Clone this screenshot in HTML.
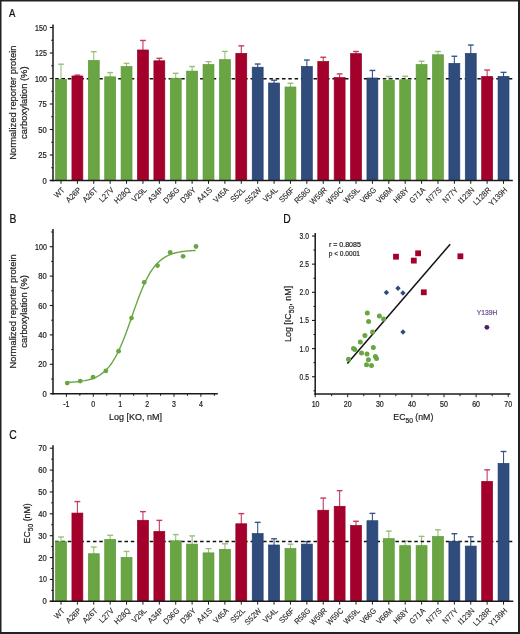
<!DOCTYPE html><html><head><meta charset="utf-8"><style>html,body{margin:0;padding:0;background:#fff;}svg{display:block;will-change:transform;}text{font-family:"Liberation Sans", sans-serif;}</style></head><body>
<svg width="520" height="634" viewBox="0 0 520 634">
<rect width="520" height="634" fill="#fff"/>
<text transform="translate(9.10,17.20) scale(0.900,1)" font-size="10.6" text-anchor="start" fill="#111" stroke="#111" stroke-width="0.22">A</text>
<line x1="61.00" y1="64.22" x2="61.00" y2="80.11" stroke="#94c278" stroke-width="1.1"/>
<line x1="58.10" y1="64.22" x2="63.90" y2="64.22" stroke="#94c278" stroke-width="1.4"/>
<line x1="77.39" y1="75.13" x2="77.39" y2="76.64" stroke="#c23c5c" stroke-width="1.1"/>
<line x1="74.49" y1="75.13" x2="80.29" y2="75.13" stroke="#c23c5c" stroke-width="1.4"/>
<line x1="93.78" y1="51.67" x2="93.78" y2="61.14" stroke="#94c278" stroke-width="1.1"/>
<line x1="90.88" y1="51.67" x2="96.68" y2="51.67" stroke="#94c278" stroke-width="1.4"/>
<line x1="110.17" y1="72.58" x2="110.17" y2="77.46" stroke="#94c278" stroke-width="1.1"/>
<line x1="107.27" y1="72.58" x2="113.07" y2="72.58" stroke="#94c278" stroke-width="1.4"/>
<line x1="126.56" y1="63.40" x2="126.56" y2="67.26" stroke="#94c278" stroke-width="1.1"/>
<line x1="123.66" y1="63.40" x2="129.46" y2="63.40" stroke="#94c278" stroke-width="1.4"/>
<line x1="142.95" y1="40.45" x2="142.95" y2="50.63" stroke="#c23c5c" stroke-width="1.1"/>
<line x1="140.05" y1="40.45" x2="145.85" y2="40.45" stroke="#c23c5c" stroke-width="1.4"/>
<line x1="159.34" y1="58.30" x2="159.34" y2="61.45" stroke="#c23c5c" stroke-width="1.1"/>
<line x1="156.44" y1="58.30" x2="162.24" y2="58.30" stroke="#c23c5c" stroke-width="1.4"/>
<line x1="175.73" y1="73.30" x2="175.73" y2="78.89" stroke="#94c278" stroke-width="1.1"/>
<line x1="172.83" y1="73.30" x2="178.63" y2="73.30" stroke="#94c278" stroke-width="1.4"/>
<line x1="192.12" y1="66.46" x2="192.12" y2="71.75" stroke="#94c278" stroke-width="1.1"/>
<line x1="189.22" y1="66.46" x2="195.02" y2="66.46" stroke="#94c278" stroke-width="1.4"/>
<line x1="208.51" y1="61.67" x2="208.51" y2="65.22" stroke="#94c278" stroke-width="1.1"/>
<line x1="205.61" y1="61.67" x2="211.41" y2="61.67" stroke="#94c278" stroke-width="1.4"/>
<line x1="224.90" y1="51.47" x2="224.90" y2="60.32" stroke="#94c278" stroke-width="1.1"/>
<line x1="222.00" y1="51.47" x2="227.80" y2="51.47" stroke="#94c278" stroke-width="1.4"/>
<line x1="241.29" y1="45.86" x2="241.29" y2="54.00" stroke="#c23c5c" stroke-width="1.1"/>
<line x1="238.39" y1="45.86" x2="244.19" y2="45.86" stroke="#c23c5c" stroke-width="1.4"/>
<line x1="257.68" y1="64.02" x2="257.68" y2="67.87" stroke="#38558a" stroke-width="1.1"/>
<line x1="254.78" y1="64.02" x2="260.58" y2="64.02" stroke="#38558a" stroke-width="1.4"/>
<line x1="274.07" y1="80.23" x2="274.07" y2="83.68" stroke="#38558a" stroke-width="1.1"/>
<line x1="271.17" y1="80.23" x2="276.97" y2="80.23" stroke="#38558a" stroke-width="1.4"/>
<line x1="290.46" y1="83.29" x2="290.46" y2="87.66" stroke="#94c278" stroke-width="1.1"/>
<line x1="287.56" y1="83.29" x2="293.36" y2="83.29" stroke="#94c278" stroke-width="1.4"/>
<line x1="306.85" y1="60.04" x2="306.85" y2="67.16" stroke="#38558a" stroke-width="1.1"/>
<line x1="303.95" y1="60.04" x2="309.75" y2="60.04" stroke="#38558a" stroke-width="1.4"/>
<line x1="323.24" y1="57.28" x2="323.24" y2="62.16" stroke="#c23c5c" stroke-width="1.1"/>
<line x1="320.34" y1="57.28" x2="326.14" y2="57.28" stroke="#c23c5c" stroke-width="1.4"/>
<line x1="339.63" y1="73.91" x2="339.63" y2="78.28" stroke="#c23c5c" stroke-width="1.1"/>
<line x1="336.73" y1="73.91" x2="342.53" y2="73.91" stroke="#c23c5c" stroke-width="1.4"/>
<line x1="356.02" y1="51.47" x2="356.02" y2="54.31" stroke="#c23c5c" stroke-width="1.1"/>
<line x1="353.12" y1="51.47" x2="358.92" y2="51.47" stroke="#c23c5c" stroke-width="1.4"/>
<line x1="372.41" y1="70.44" x2="372.41" y2="78.68" stroke="#38558a" stroke-width="1.1"/>
<line x1="369.51" y1="70.44" x2="375.31" y2="70.44" stroke="#38558a" stroke-width="1.4"/>
<line x1="388.80" y1="76.46" x2="388.80" y2="80.93" stroke="#94c278" stroke-width="1.1"/>
<line x1="385.90" y1="76.46" x2="391.70" y2="76.46" stroke="#94c278" stroke-width="1.4"/>
<line x1="405.19" y1="76.26" x2="405.19" y2="80.42" stroke="#94c278" stroke-width="1.1"/>
<line x1="402.29" y1="76.26" x2="408.09" y2="76.26" stroke="#94c278" stroke-width="1.4"/>
<line x1="421.58" y1="61.26" x2="421.58" y2="65.22" stroke="#94c278" stroke-width="1.1"/>
<line x1="418.68" y1="61.26" x2="424.48" y2="61.26" stroke="#94c278" stroke-width="1.4"/>
<line x1="437.97" y1="51.47" x2="437.97" y2="55.43" stroke="#94c278" stroke-width="1.1"/>
<line x1="435.07" y1="51.47" x2="440.87" y2="51.47" stroke="#94c278" stroke-width="1.4"/>
<line x1="454.36" y1="56.26" x2="454.36" y2="64.10" stroke="#38558a" stroke-width="1.1"/>
<line x1="451.46" y1="56.26" x2="457.26" y2="56.26" stroke="#38558a" stroke-width="1.4"/>
<line x1="470.75" y1="45.04" x2="470.75" y2="54.10" stroke="#38558a" stroke-width="1.1"/>
<line x1="467.85" y1="45.04" x2="473.65" y2="45.04" stroke="#38558a" stroke-width="1.4"/>
<line x1="487.14" y1="70.03" x2="487.14" y2="77.15" stroke="#c23c5c" stroke-width="1.1"/>
<line x1="484.24" y1="70.03" x2="490.04" y2="70.03" stroke="#c23c5c" stroke-width="1.4"/>
<line x1="503.53" y1="72.38" x2="503.53" y2="77.15" stroke="#38558a" stroke-width="1.1"/>
<line x1="500.63" y1="72.38" x2="506.43" y2="72.38" stroke="#38558a" stroke-width="1.4"/>
<line x1="53.5" y1="78.80" x2="512.8" y2="78.80" stroke="#111" stroke-width="1.5" stroke-dasharray="3.5 2.8" stroke-dashoffset="-1.7"/>
<rect x="55.55" y="79.46" width="10.90" height="101.04" fill="#69a643" stroke="#5e9a3a" stroke-width="0.7"/>
<line x1="61.00" y1="180.5" x2="61.00" y2="183.8" stroke="#1a1a1a" stroke-width="1.0"/>
<text transform="translate(65.30,190.50) rotate(-45) scale(0.920,1)" font-size="8.0" text-anchor="end" fill="#1e1e1e" stroke="#1e1e1e" stroke-width="0.1">WT</text>
<rect x="71.94" y="75.99" width="10.90" height="104.51" fill="#a3002b" stroke="#960027" stroke-width="0.7"/>
<line x1="77.39" y1="180.5" x2="77.39" y2="183.8" stroke="#1a1a1a" stroke-width="1.0"/>
<text transform="translate(81.69,190.50) rotate(-45) scale(0.920,1)" font-size="8.0" text-anchor="end" fill="#1e1e1e" stroke="#1e1e1e" stroke-width="0.1">A26P</text>
<rect x="88.33" y="60.49" width="10.90" height="120.01" fill="#69a643" stroke="#5e9a3a" stroke-width="0.7"/>
<line x1="93.78" y1="180.5" x2="93.78" y2="183.8" stroke="#1a1a1a" stroke-width="1.0"/>
<text transform="translate(98.08,190.50) rotate(-45) scale(0.920,1)" font-size="8.0" text-anchor="end" fill="#1e1e1e" stroke="#1e1e1e" stroke-width="0.1">A26T</text>
<rect x="104.72" y="76.81" width="10.90" height="103.69" fill="#69a643" stroke="#5e9a3a" stroke-width="0.7"/>
<line x1="110.17" y1="180.5" x2="110.17" y2="183.8" stroke="#1a1a1a" stroke-width="1.0"/>
<text transform="translate(114.47,190.50) rotate(-45) scale(0.920,1)" font-size="8.0" text-anchor="end" fill="#1e1e1e" stroke="#1e1e1e" stroke-width="0.1">L27V</text>
<rect x="121.11" y="66.61" width="10.90" height="113.89" fill="#69a643" stroke="#5e9a3a" stroke-width="0.7"/>
<line x1="126.56" y1="180.5" x2="126.56" y2="183.8" stroke="#1a1a1a" stroke-width="1.0"/>
<text transform="translate(130.86,190.50) rotate(-45) scale(0.920,1)" font-size="8.0" text-anchor="end" fill="#1e1e1e" stroke="#1e1e1e" stroke-width="0.1">H28Q</text>
<rect x="137.50" y="49.98" width="10.90" height="130.52" fill="#a3002b" stroke="#960027" stroke-width="0.7"/>
<line x1="142.95" y1="180.5" x2="142.95" y2="183.8" stroke="#1a1a1a" stroke-width="1.0"/>
<text transform="translate(147.25,190.50) rotate(-45) scale(0.920,1)" font-size="8.0" text-anchor="end" fill="#1e1e1e" stroke="#1e1e1e" stroke-width="0.1">V29L</text>
<rect x="153.89" y="60.80" width="10.90" height="119.70" fill="#a3002b" stroke="#960027" stroke-width="0.7"/>
<line x1="159.34" y1="180.5" x2="159.34" y2="183.8" stroke="#1a1a1a" stroke-width="1.0"/>
<text transform="translate(163.64,190.50) rotate(-45) scale(0.920,1)" font-size="8.0" text-anchor="end" fill="#1e1e1e" stroke="#1e1e1e" stroke-width="0.1">A34P</text>
<rect x="170.28" y="78.24" width="10.90" height="102.26" fill="#69a643" stroke="#5e9a3a" stroke-width="0.7"/>
<line x1="175.73" y1="180.5" x2="175.73" y2="183.8" stroke="#1a1a1a" stroke-width="1.0"/>
<text transform="translate(180.03,190.50) rotate(-45) scale(0.920,1)" font-size="8.0" text-anchor="end" fill="#1e1e1e" stroke="#1e1e1e" stroke-width="0.1">D36G</text>
<rect x="186.67" y="71.10" width="10.90" height="109.40" fill="#69a643" stroke="#5e9a3a" stroke-width="0.7"/>
<line x1="192.12" y1="180.5" x2="192.12" y2="183.8" stroke="#1a1a1a" stroke-width="1.0"/>
<text transform="translate(196.42,190.50) rotate(-45) scale(0.920,1)" font-size="8.0" text-anchor="end" fill="#1e1e1e" stroke="#1e1e1e" stroke-width="0.1">D36Y</text>
<rect x="203.06" y="64.57" width="10.90" height="115.93" fill="#69a643" stroke="#5e9a3a" stroke-width="0.7"/>
<line x1="208.51" y1="180.5" x2="208.51" y2="183.8" stroke="#1a1a1a" stroke-width="1.0"/>
<text transform="translate(212.81,190.50) rotate(-45) scale(0.920,1)" font-size="8.0" text-anchor="end" fill="#1e1e1e" stroke="#1e1e1e" stroke-width="0.1">A41S</text>
<rect x="219.45" y="59.67" width="10.90" height="120.83" fill="#69a643" stroke="#5e9a3a" stroke-width="0.7"/>
<line x1="224.90" y1="180.5" x2="224.90" y2="183.8" stroke="#1a1a1a" stroke-width="1.0"/>
<text transform="translate(229.20,190.50) rotate(-45) scale(0.920,1)" font-size="8.0" text-anchor="end" fill="#1e1e1e" stroke="#1e1e1e" stroke-width="0.1">V45A</text>
<rect x="235.84" y="53.35" width="10.90" height="127.15" fill="#a3002b" stroke="#960027" stroke-width="0.7"/>
<line x1="241.29" y1="180.5" x2="241.29" y2="183.8" stroke="#1a1a1a" stroke-width="1.0"/>
<text transform="translate(245.59,190.50) rotate(-45) scale(0.920,1)" font-size="8.0" text-anchor="end" fill="#1e1e1e" stroke="#1e1e1e" stroke-width="0.1">S52L</text>
<rect x="252.23" y="67.22" width="10.90" height="113.28" fill="#2f4c7c" stroke="#223f70" stroke-width="0.7"/>
<line x1="257.68" y1="180.5" x2="257.68" y2="183.8" stroke="#1a1a1a" stroke-width="1.0"/>
<text transform="translate(261.98,190.50) rotate(-45) scale(0.920,1)" font-size="8.0" text-anchor="end" fill="#1e1e1e" stroke="#1e1e1e" stroke-width="0.1">S52W</text>
<rect x="268.62" y="83.03" width="10.90" height="97.47" fill="#2f4c7c" stroke="#223f70" stroke-width="0.7"/>
<line x1="274.07" y1="180.5" x2="274.07" y2="183.8" stroke="#1a1a1a" stroke-width="1.0"/>
<text transform="translate(278.37,190.50) rotate(-45) scale(0.920,1)" font-size="8.0" text-anchor="end" fill="#1e1e1e" stroke="#1e1e1e" stroke-width="0.1">V54L</text>
<rect x="285.01" y="87.01" width="10.90" height="93.49" fill="#69a643" stroke="#5e9a3a" stroke-width="0.7"/>
<line x1="290.46" y1="180.5" x2="290.46" y2="183.8" stroke="#1a1a1a" stroke-width="1.0"/>
<text transform="translate(294.76,190.50) rotate(-45) scale(0.920,1)" font-size="8.0" text-anchor="end" fill="#1e1e1e" stroke="#1e1e1e" stroke-width="0.1">S56F</text>
<rect x="301.40" y="66.51" width="10.90" height="113.99" fill="#2f4c7c" stroke="#223f70" stroke-width="0.7"/>
<line x1="306.85" y1="180.5" x2="306.85" y2="183.8" stroke="#1a1a1a" stroke-width="1.0"/>
<text transform="translate(311.15,190.50) rotate(-45) scale(0.920,1)" font-size="8.0" text-anchor="end" fill="#1e1e1e" stroke="#1e1e1e" stroke-width="0.1">R58G</text>
<rect x="317.79" y="61.51" width="10.90" height="118.99" fill="#a3002b" stroke="#960027" stroke-width="0.7"/>
<line x1="323.24" y1="180.5" x2="323.24" y2="183.8" stroke="#1a1a1a" stroke-width="1.0"/>
<text transform="translate(327.54,190.50) rotate(-45) scale(0.920,1)" font-size="8.0" text-anchor="end" fill="#1e1e1e" stroke="#1e1e1e" stroke-width="0.1">W59R</text>
<rect x="334.18" y="77.63" width="10.90" height="102.87" fill="#a3002b" stroke="#960027" stroke-width="0.7"/>
<line x1="339.63" y1="180.5" x2="339.63" y2="183.8" stroke="#1a1a1a" stroke-width="1.0"/>
<text transform="translate(343.93,190.50) rotate(-45) scale(0.920,1)" font-size="8.0" text-anchor="end" fill="#1e1e1e" stroke="#1e1e1e" stroke-width="0.1">W59C</text>
<rect x="350.57" y="53.66" width="10.90" height="126.84" fill="#a3002b" stroke="#960027" stroke-width="0.7"/>
<line x1="356.02" y1="180.5" x2="356.02" y2="183.8" stroke="#1a1a1a" stroke-width="1.0"/>
<text transform="translate(360.32,190.50) rotate(-45) scale(0.920,1)" font-size="8.0" text-anchor="end" fill="#1e1e1e" stroke="#1e1e1e" stroke-width="0.1">W59L</text>
<rect x="366.96" y="78.03" width="10.90" height="102.47" fill="#2f4c7c" stroke="#223f70" stroke-width="0.7"/>
<line x1="372.41" y1="180.5" x2="372.41" y2="183.8" stroke="#1a1a1a" stroke-width="1.0"/>
<text transform="translate(376.71,190.50) rotate(-45) scale(0.920,1)" font-size="8.0" text-anchor="end" fill="#1e1e1e" stroke="#1e1e1e" stroke-width="0.1">V66G</text>
<rect x="383.35" y="80.28" width="10.90" height="100.22" fill="#69a643" stroke="#5e9a3a" stroke-width="0.7"/>
<line x1="388.80" y1="180.5" x2="388.80" y2="183.8" stroke="#1a1a1a" stroke-width="1.0"/>
<text transform="translate(393.10,190.50) rotate(-45) scale(0.920,1)" font-size="8.0" text-anchor="end" fill="#1e1e1e" stroke="#1e1e1e" stroke-width="0.1">V66M</text>
<rect x="399.74" y="79.77" width="10.90" height="100.73" fill="#69a643" stroke="#5e9a3a" stroke-width="0.7"/>
<line x1="405.19" y1="180.5" x2="405.19" y2="183.8" stroke="#1a1a1a" stroke-width="1.0"/>
<text transform="translate(409.49,190.50) rotate(-45) scale(0.920,1)" font-size="8.0" text-anchor="end" fill="#1e1e1e" stroke="#1e1e1e" stroke-width="0.1">H68Y</text>
<rect x="416.13" y="64.57" width="10.90" height="115.93" fill="#69a643" stroke="#5e9a3a" stroke-width="0.7"/>
<line x1="421.58" y1="180.5" x2="421.58" y2="183.8" stroke="#1a1a1a" stroke-width="1.0"/>
<text transform="translate(425.88,190.50) rotate(-45) scale(0.920,1)" font-size="8.0" text-anchor="end" fill="#1e1e1e" stroke="#1e1e1e" stroke-width="0.1">G71A</text>
<rect x="432.52" y="54.78" width="10.90" height="125.72" fill="#69a643" stroke="#5e9a3a" stroke-width="0.7"/>
<line x1="437.97" y1="180.5" x2="437.97" y2="183.8" stroke="#1a1a1a" stroke-width="1.0"/>
<text transform="translate(442.27,190.50) rotate(-45) scale(0.920,1)" font-size="8.0" text-anchor="end" fill="#1e1e1e" stroke="#1e1e1e" stroke-width="0.1">N77S</text>
<rect x="448.91" y="63.45" width="10.90" height="117.05" fill="#2f4c7c" stroke="#223f70" stroke-width="0.7"/>
<line x1="454.36" y1="180.5" x2="454.36" y2="183.8" stroke="#1a1a1a" stroke-width="1.0"/>
<text transform="translate(458.66,190.50) rotate(-45) scale(0.920,1)" font-size="8.0" text-anchor="end" fill="#1e1e1e" stroke="#1e1e1e" stroke-width="0.1">N77Y</text>
<rect x="465.30" y="53.45" width="10.90" height="127.05" fill="#2f4c7c" stroke="#223f70" stroke-width="0.7"/>
<line x1="470.75" y1="180.5" x2="470.75" y2="183.8" stroke="#1a1a1a" stroke-width="1.0"/>
<text transform="translate(475.05,190.50) rotate(-45) scale(0.920,1)" font-size="8.0" text-anchor="end" fill="#1e1e1e" stroke="#1e1e1e" stroke-width="0.1">I123N</text>
<rect x="481.69" y="76.50" width="10.90" height="104.00" fill="#a3002b" stroke="#960027" stroke-width="0.7"/>
<line x1="487.14" y1="180.5" x2="487.14" y2="183.8" stroke="#1a1a1a" stroke-width="1.0"/>
<text transform="translate(491.44,190.50) rotate(-45) scale(0.920,1)" font-size="8.0" text-anchor="end" fill="#1e1e1e" stroke="#1e1e1e" stroke-width="0.1">L128R</text>
<rect x="498.08" y="76.50" width="10.90" height="104.00" fill="#2f4c7c" stroke="#223f70" stroke-width="0.7"/>
<line x1="503.53" y1="180.5" x2="503.53" y2="183.8" stroke="#1a1a1a" stroke-width="1.0"/>
<text transform="translate(507.83,190.50) rotate(-45) scale(0.920,1)" font-size="8.0" text-anchor="end" fill="#1e1e1e" stroke="#1e1e1e" stroke-width="0.1">Y139H</text>
<line x1="53" y1="24.4" x2="53" y2="181.25" stroke="#1a1a1a" stroke-width="1.5"/>
<line x1="49.8" y1="180.50" x2="53" y2="180.50" stroke="#1a1a1a" stroke-width="1.1"/>
<text transform="translate(46.80,183.50) scale(0.930,1)" font-size="8.2" text-anchor="end" fill="#1e1e1e" stroke="#1e1e1e" stroke-width="0.22">0</text>
<line x1="49.8" y1="155.00" x2="53" y2="155.00" stroke="#1a1a1a" stroke-width="1.1"/>
<text transform="translate(46.80,158.00) scale(0.930,1)" font-size="8.2" text-anchor="end" fill="#1e1e1e" stroke="#1e1e1e" stroke-width="0.22">25</text>
<line x1="49.8" y1="129.50" x2="53" y2="129.50" stroke="#1a1a1a" stroke-width="1.1"/>
<text transform="translate(46.80,132.50) scale(0.930,1)" font-size="8.2" text-anchor="end" fill="#1e1e1e" stroke="#1e1e1e" stroke-width="0.22">50</text>
<line x1="49.8" y1="104.00" x2="53" y2="104.00" stroke="#1a1a1a" stroke-width="1.1"/>
<text transform="translate(46.80,107.00) scale(0.930,1)" font-size="8.2" text-anchor="end" fill="#1e1e1e" stroke="#1e1e1e" stroke-width="0.22">75</text>
<line x1="49.8" y1="78.50" x2="53" y2="78.50" stroke="#1a1a1a" stroke-width="1.1"/>
<text transform="translate(46.80,81.50) scale(0.860,1)" font-size="8.2" text-anchor="end" fill="#1e1e1e" stroke="#1e1e1e" stroke-width="0.22">100</text>
<line x1="49.8" y1="53.00" x2="53" y2="53.00" stroke="#1a1a1a" stroke-width="1.1"/>
<text transform="translate(46.80,56.00) scale(0.860,1)" font-size="8.2" text-anchor="end" fill="#1e1e1e" stroke="#1e1e1e" stroke-width="0.22">125</text>
<line x1="49.8" y1="27.50" x2="53" y2="27.50" stroke="#1a1a1a" stroke-width="1.1"/>
<text transform="translate(46.80,30.50) scale(0.860,1)" font-size="8.2" text-anchor="end" fill="#1e1e1e" stroke="#1e1e1e" stroke-width="0.22">150</text>
<line x1="51.2" y1="167.75" x2="53" y2="167.75" stroke="#1a1a1a" stroke-width="1.0"/>
<line x1="51.2" y1="142.25" x2="53" y2="142.25" stroke="#1a1a1a" stroke-width="1.0"/>
<line x1="51.2" y1="116.75" x2="53" y2="116.75" stroke="#1a1a1a" stroke-width="1.0"/>
<line x1="51.2" y1="91.25" x2="53" y2="91.25" stroke="#1a1a1a" stroke-width="1.0"/>
<line x1="51.2" y1="65.75" x2="53" y2="65.75" stroke="#1a1a1a" stroke-width="1.0"/>
<line x1="51.2" y1="40.25" x2="53" y2="40.25" stroke="#1a1a1a" stroke-width="1.0"/>
<line x1="49.8" y1="180.5" x2="512.8" y2="180.5" stroke="#1a1a1a" stroke-width="1.5"/>
<text transform="translate(16.30,102.70) rotate(-90) scale(0.950,1)" font-size="9.9" text-anchor="middle" fill="#1e1e1e" stroke="#1e1e1e" stroke-width="0.22">Normalized reporter protein</text>
<text transform="translate(26.60,102.70) rotate(-90) scale(0.950,1)" font-size="9.9" text-anchor="middle" fill="#1e1e1e" stroke="#1e1e1e" stroke-width="0.22">carboxylation (%)</text>
<text transform="translate(9.20,439.00) scale(0.870,1)" font-size="11.9" text-anchor="start" fill="#111" stroke="#111" stroke-width="0.22">C</text>
<line x1="61.00" y1="537.00" x2="61.00" y2="542.38" stroke="#94c278" stroke-width="1.1"/>
<line x1="58.10" y1="537.00" x2="63.90" y2="537.00" stroke="#94c278" stroke-width="1.4"/>
<line x1="77.39" y1="501.57" x2="77.39" y2="513.73" stroke="#c23c5c" stroke-width="1.1"/>
<line x1="74.49" y1="501.57" x2="80.29" y2="501.57" stroke="#c23c5c" stroke-width="1.4"/>
<line x1="93.78" y1="547.06" x2="93.78" y2="554.40" stroke="#94c278" stroke-width="1.1"/>
<line x1="90.88" y1="547.06" x2="96.68" y2="547.06" stroke="#94c278" stroke-width="1.4"/>
<line x1="110.17" y1="535.25" x2="110.17" y2="540.19" stroke="#94c278" stroke-width="1.1"/>
<line x1="107.27" y1="535.25" x2="113.07" y2="535.25" stroke="#94c278" stroke-width="1.4"/>
<line x1="126.56" y1="551.44" x2="126.56" y2="558.12" stroke="#94c278" stroke-width="1.1"/>
<line x1="123.66" y1="551.44" x2="129.46" y2="551.44" stroke="#94c278" stroke-width="1.4"/>
<line x1="142.95" y1="511.63" x2="142.95" y2="520.94" stroke="#c23c5c" stroke-width="1.1"/>
<line x1="140.05" y1="511.63" x2="145.85" y2="511.63" stroke="#c23c5c" stroke-width="1.4"/>
<line x1="159.34" y1="520.38" x2="159.34" y2="532.10" stroke="#c23c5c" stroke-width="1.1"/>
<line x1="156.44" y1="520.38" x2="162.24" y2="520.38" stroke="#c23c5c" stroke-width="1.4"/>
<line x1="175.73" y1="534.60" x2="175.73" y2="541.50" stroke="#94c278" stroke-width="1.1"/>
<line x1="172.83" y1="534.60" x2="178.63" y2="534.60" stroke="#94c278" stroke-width="1.4"/>
<line x1="192.12" y1="535.91" x2="192.12" y2="544.78" stroke="#94c278" stroke-width="1.1"/>
<line x1="189.22" y1="535.91" x2="195.02" y2="535.91" stroke="#94c278" stroke-width="1.4"/>
<line x1="208.51" y1="548.59" x2="208.51" y2="553.53" stroke="#94c278" stroke-width="1.1"/>
<line x1="205.61" y1="548.59" x2="211.41" y2="548.59" stroke="#94c278" stroke-width="1.4"/>
<line x1="224.90" y1="543.78" x2="224.90" y2="550.03" stroke="#94c278" stroke-width="1.1"/>
<line x1="222.00" y1="543.78" x2="227.80" y2="543.78" stroke="#94c278" stroke-width="1.4"/>
<line x1="241.29" y1="513.60" x2="241.29" y2="524.44" stroke="#c23c5c" stroke-width="1.1"/>
<line x1="238.39" y1="513.60" x2="244.19" y2="513.60" stroke="#c23c5c" stroke-width="1.4"/>
<line x1="257.68" y1="522.35" x2="257.68" y2="534.28" stroke="#38558a" stroke-width="1.1"/>
<line x1="254.78" y1="522.35" x2="260.58" y2="522.35" stroke="#38558a" stroke-width="1.4"/>
<line x1="274.07" y1="538.75" x2="274.07" y2="545.66" stroke="#38558a" stroke-width="1.1"/>
<line x1="271.17" y1="538.75" x2="276.97" y2="538.75" stroke="#38558a" stroke-width="1.4"/>
<line x1="290.46" y1="544.22" x2="290.46" y2="549.16" stroke="#94c278" stroke-width="1.1"/>
<line x1="287.56" y1="544.22" x2="293.36" y2="544.22" stroke="#94c278" stroke-width="1.4"/>
<line x1="306.85" y1="541.59" x2="306.85" y2="544.78" stroke="#38558a" stroke-width="1.1"/>
<line x1="303.95" y1="541.59" x2="309.75" y2="541.59" stroke="#38558a" stroke-width="1.4"/>
<line x1="323.24" y1="498.07" x2="323.24" y2="510.88" stroke="#c23c5c" stroke-width="1.1"/>
<line x1="320.34" y1="498.07" x2="326.14" y2="498.07" stroke="#c23c5c" stroke-width="1.4"/>
<line x1="339.63" y1="490.64" x2="339.63" y2="506.95" stroke="#c23c5c" stroke-width="1.1"/>
<line x1="336.73" y1="490.64" x2="342.53" y2="490.64" stroke="#c23c5c" stroke-width="1.4"/>
<line x1="356.02" y1="521.26" x2="356.02" y2="526.19" stroke="#c23c5c" stroke-width="1.1"/>
<line x1="353.12" y1="521.26" x2="358.92" y2="521.26" stroke="#c23c5c" stroke-width="1.4"/>
<line x1="372.41" y1="513.38" x2="372.41" y2="521.38" stroke="#38558a" stroke-width="1.1"/>
<line x1="369.51" y1="513.38" x2="375.31" y2="513.38" stroke="#38558a" stroke-width="1.4"/>
<line x1="388.80" y1="531.10" x2="388.80" y2="539.31" stroke="#94c278" stroke-width="1.1"/>
<line x1="385.90" y1="531.10" x2="391.70" y2="531.10" stroke="#94c278" stroke-width="1.4"/>
<line x1="405.19" y1="541.16" x2="405.19" y2="546.31" stroke="#94c278" stroke-width="1.1"/>
<line x1="402.29" y1="541.16" x2="408.09" y2="541.16" stroke="#94c278" stroke-width="1.4"/>
<line x1="421.58" y1="536.35" x2="421.58" y2="546.31" stroke="#94c278" stroke-width="1.1"/>
<line x1="418.68" y1="536.35" x2="424.48" y2="536.35" stroke="#94c278" stroke-width="1.4"/>
<line x1="437.97" y1="529.79" x2="437.97" y2="537.13" stroke="#94c278" stroke-width="1.1"/>
<line x1="435.07" y1="529.79" x2="440.87" y2="529.79" stroke="#94c278" stroke-width="1.4"/>
<line x1="454.36" y1="533.72" x2="454.36" y2="541.94" stroke="#38558a" stroke-width="1.1"/>
<line x1="451.46" y1="533.72" x2="457.26" y2="533.72" stroke="#38558a" stroke-width="1.4"/>
<line x1="470.75" y1="536.78" x2="470.75" y2="546.75" stroke="#38558a" stroke-width="1.1"/>
<line x1="467.85" y1="536.78" x2="473.65" y2="536.78" stroke="#38558a" stroke-width="1.4"/>
<line x1="487.14" y1="469.86" x2="487.14" y2="482.01" stroke="#c23c5c" stroke-width="1.1"/>
<line x1="484.24" y1="469.86" x2="490.04" y2="469.86" stroke="#c23c5c" stroke-width="1.4"/>
<line x1="503.53" y1="451.49" x2="503.53" y2="464.08" stroke="#38558a" stroke-width="1.1"/>
<line x1="500.63" y1="451.49" x2="506.43" y2="451.49" stroke="#38558a" stroke-width="1.4"/>
<line x1="53.5" y1="541.40" x2="513.3" y2="541.40" stroke="#111" stroke-width="1.5" stroke-dasharray="3.5 2.8" stroke-dashoffset="-1.7"/>
<rect x="55.55" y="541.73" width="10.90" height="59.57" fill="#69a643" stroke="#5e9a3a" stroke-width="0.7"/>
<line x1="61.00" y1="601.3" x2="61.00" y2="604.5999999999999" stroke="#1a1a1a" stroke-width="1.0"/>
<text transform="translate(65.30,611.30) rotate(-45) scale(0.920,1)" font-size="8.0" text-anchor="end" fill="#1e1e1e" stroke="#1e1e1e" stroke-width="0.1">WT</text>
<rect x="71.94" y="513.08" width="10.90" height="88.22" fill="#a3002b" stroke="#960027" stroke-width="0.7"/>
<line x1="77.39" y1="601.3" x2="77.39" y2="604.5999999999999" stroke="#1a1a1a" stroke-width="1.0"/>
<text transform="translate(81.69,611.30) rotate(-45) scale(0.920,1)" font-size="8.0" text-anchor="end" fill="#1e1e1e" stroke="#1e1e1e" stroke-width="0.1">A26P</text>
<rect x="88.33" y="553.75" width="10.90" height="47.55" fill="#69a643" stroke="#5e9a3a" stroke-width="0.7"/>
<line x1="93.78" y1="601.3" x2="93.78" y2="604.5999999999999" stroke="#1a1a1a" stroke-width="1.0"/>
<text transform="translate(98.08,611.30) rotate(-45) scale(0.920,1)" font-size="8.0" text-anchor="end" fill="#1e1e1e" stroke="#1e1e1e" stroke-width="0.1">A26T</text>
<rect x="104.72" y="539.54" width="10.90" height="61.76" fill="#69a643" stroke="#5e9a3a" stroke-width="0.7"/>
<line x1="110.17" y1="601.3" x2="110.17" y2="604.5999999999999" stroke="#1a1a1a" stroke-width="1.0"/>
<text transform="translate(114.47,611.30) rotate(-45) scale(0.920,1)" font-size="8.0" text-anchor="end" fill="#1e1e1e" stroke="#1e1e1e" stroke-width="0.1">L27V</text>
<rect x="121.11" y="557.47" width="10.90" height="43.83" fill="#69a643" stroke="#5e9a3a" stroke-width="0.7"/>
<line x1="126.56" y1="601.3" x2="126.56" y2="604.5999999999999" stroke="#1a1a1a" stroke-width="1.0"/>
<text transform="translate(130.86,611.30) rotate(-45) scale(0.920,1)" font-size="8.0" text-anchor="end" fill="#1e1e1e" stroke="#1e1e1e" stroke-width="0.1">H28Q</text>
<rect x="137.50" y="520.29" width="10.90" height="81.01" fill="#a3002b" stroke="#960027" stroke-width="0.7"/>
<line x1="142.95" y1="601.3" x2="142.95" y2="604.5999999999999" stroke="#1a1a1a" stroke-width="1.0"/>
<text transform="translate(147.25,611.30) rotate(-45) scale(0.920,1)" font-size="8.0" text-anchor="end" fill="#1e1e1e" stroke="#1e1e1e" stroke-width="0.1">V29L</text>
<rect x="153.89" y="531.45" width="10.90" height="69.85" fill="#a3002b" stroke="#960027" stroke-width="0.7"/>
<line x1="159.34" y1="601.3" x2="159.34" y2="604.5999999999999" stroke="#1a1a1a" stroke-width="1.0"/>
<text transform="translate(163.64,611.30) rotate(-45) scale(0.920,1)" font-size="8.0" text-anchor="end" fill="#1e1e1e" stroke="#1e1e1e" stroke-width="0.1">A34P</text>
<rect x="170.28" y="540.85" width="10.90" height="60.45" fill="#69a643" stroke="#5e9a3a" stroke-width="0.7"/>
<line x1="175.73" y1="601.3" x2="175.73" y2="604.5999999999999" stroke="#1a1a1a" stroke-width="1.0"/>
<text transform="translate(180.03,611.30) rotate(-45) scale(0.920,1)" font-size="8.0" text-anchor="end" fill="#1e1e1e" stroke="#1e1e1e" stroke-width="0.1">D36G</text>
<rect x="186.67" y="544.13" width="10.90" height="57.17" fill="#69a643" stroke="#5e9a3a" stroke-width="0.7"/>
<line x1="192.12" y1="601.3" x2="192.12" y2="604.5999999999999" stroke="#1a1a1a" stroke-width="1.0"/>
<text transform="translate(196.42,611.30) rotate(-45) scale(0.920,1)" font-size="8.0" text-anchor="end" fill="#1e1e1e" stroke="#1e1e1e" stroke-width="0.1">D36Y</text>
<rect x="203.06" y="552.88" width="10.90" height="48.42" fill="#69a643" stroke="#5e9a3a" stroke-width="0.7"/>
<line x1="208.51" y1="601.3" x2="208.51" y2="604.5999999999999" stroke="#1a1a1a" stroke-width="1.0"/>
<text transform="translate(212.81,611.30) rotate(-45) scale(0.920,1)" font-size="8.0" text-anchor="end" fill="#1e1e1e" stroke="#1e1e1e" stroke-width="0.1">A41S</text>
<rect x="219.45" y="549.38" width="10.90" height="51.92" fill="#69a643" stroke="#5e9a3a" stroke-width="0.7"/>
<line x1="224.90" y1="601.3" x2="224.90" y2="604.5999999999999" stroke="#1a1a1a" stroke-width="1.0"/>
<text transform="translate(229.20,611.30) rotate(-45) scale(0.920,1)" font-size="8.0" text-anchor="end" fill="#1e1e1e" stroke="#1e1e1e" stroke-width="0.1">V45A</text>
<rect x="235.84" y="523.79" width="10.90" height="77.51" fill="#a3002b" stroke="#960027" stroke-width="0.7"/>
<line x1="241.29" y1="601.3" x2="241.29" y2="604.5999999999999" stroke="#1a1a1a" stroke-width="1.0"/>
<text transform="translate(245.59,611.30) rotate(-45) scale(0.920,1)" font-size="8.0" text-anchor="end" fill="#1e1e1e" stroke="#1e1e1e" stroke-width="0.1">S52L</text>
<rect x="252.23" y="533.63" width="10.90" height="67.67" fill="#2f4c7c" stroke="#223f70" stroke-width="0.7"/>
<line x1="257.68" y1="601.3" x2="257.68" y2="604.5999999999999" stroke="#1a1a1a" stroke-width="1.0"/>
<text transform="translate(261.98,611.30) rotate(-45) scale(0.920,1)" font-size="8.0" text-anchor="end" fill="#1e1e1e" stroke="#1e1e1e" stroke-width="0.1">S52W</text>
<rect x="268.62" y="545.01" width="10.90" height="56.29" fill="#2f4c7c" stroke="#223f70" stroke-width="0.7"/>
<line x1="274.07" y1="601.3" x2="274.07" y2="604.5999999999999" stroke="#1a1a1a" stroke-width="1.0"/>
<text transform="translate(278.37,611.30) rotate(-45) scale(0.920,1)" font-size="8.0" text-anchor="end" fill="#1e1e1e" stroke="#1e1e1e" stroke-width="0.1">V54L</text>
<rect x="285.01" y="548.51" width="10.90" height="52.79" fill="#69a643" stroke="#5e9a3a" stroke-width="0.7"/>
<line x1="290.46" y1="601.3" x2="290.46" y2="604.5999999999999" stroke="#1a1a1a" stroke-width="1.0"/>
<text transform="translate(294.76,611.30) rotate(-45) scale(0.920,1)" font-size="8.0" text-anchor="end" fill="#1e1e1e" stroke="#1e1e1e" stroke-width="0.1">S56F</text>
<rect x="301.40" y="544.13" width="10.90" height="57.17" fill="#2f4c7c" stroke="#223f70" stroke-width="0.7"/>
<line x1="306.85" y1="601.3" x2="306.85" y2="604.5999999999999" stroke="#1a1a1a" stroke-width="1.0"/>
<text transform="translate(311.15,611.30) rotate(-45) scale(0.920,1)" font-size="8.0" text-anchor="end" fill="#1e1e1e" stroke="#1e1e1e" stroke-width="0.1">R58G</text>
<rect x="317.79" y="510.23" width="10.90" height="91.07" fill="#a3002b" stroke="#960027" stroke-width="0.7"/>
<line x1="323.24" y1="601.3" x2="323.24" y2="604.5999999999999" stroke="#1a1a1a" stroke-width="1.0"/>
<text transform="translate(327.54,611.30) rotate(-45) scale(0.920,1)" font-size="8.0" text-anchor="end" fill="#1e1e1e" stroke="#1e1e1e" stroke-width="0.1">W59R</text>
<rect x="334.18" y="506.30" width="10.90" height="95.00" fill="#a3002b" stroke="#960027" stroke-width="0.7"/>
<line x1="339.63" y1="601.3" x2="339.63" y2="604.5999999999999" stroke="#1a1a1a" stroke-width="1.0"/>
<text transform="translate(343.93,611.30) rotate(-45) scale(0.920,1)" font-size="8.0" text-anchor="end" fill="#1e1e1e" stroke="#1e1e1e" stroke-width="0.1">W59C</text>
<rect x="350.57" y="525.54" width="10.90" height="75.76" fill="#a3002b" stroke="#960027" stroke-width="0.7"/>
<line x1="356.02" y1="601.3" x2="356.02" y2="604.5999999999999" stroke="#1a1a1a" stroke-width="1.0"/>
<text transform="translate(360.32,611.30) rotate(-45) scale(0.920,1)" font-size="8.0" text-anchor="end" fill="#1e1e1e" stroke="#1e1e1e" stroke-width="0.1">W59L</text>
<rect x="366.96" y="520.73" width="10.90" height="80.57" fill="#2f4c7c" stroke="#223f70" stroke-width="0.7"/>
<line x1="372.41" y1="601.3" x2="372.41" y2="604.5999999999999" stroke="#1a1a1a" stroke-width="1.0"/>
<text transform="translate(376.71,611.30) rotate(-45) scale(0.920,1)" font-size="8.0" text-anchor="end" fill="#1e1e1e" stroke="#1e1e1e" stroke-width="0.1">V66G</text>
<rect x="383.35" y="538.66" width="10.90" height="62.64" fill="#69a643" stroke="#5e9a3a" stroke-width="0.7"/>
<line x1="388.80" y1="601.3" x2="388.80" y2="604.5999999999999" stroke="#1a1a1a" stroke-width="1.0"/>
<text transform="translate(393.10,611.30) rotate(-45) scale(0.920,1)" font-size="8.0" text-anchor="end" fill="#1e1e1e" stroke="#1e1e1e" stroke-width="0.1">V66M</text>
<rect x="399.74" y="545.66" width="10.90" height="55.64" fill="#69a643" stroke="#5e9a3a" stroke-width="0.7"/>
<line x1="405.19" y1="601.3" x2="405.19" y2="604.5999999999999" stroke="#1a1a1a" stroke-width="1.0"/>
<text transform="translate(409.49,611.30) rotate(-45) scale(0.920,1)" font-size="8.0" text-anchor="end" fill="#1e1e1e" stroke="#1e1e1e" stroke-width="0.1">H68Y</text>
<rect x="416.13" y="545.66" width="10.90" height="55.64" fill="#69a643" stroke="#5e9a3a" stroke-width="0.7"/>
<line x1="421.58" y1="601.3" x2="421.58" y2="604.5999999999999" stroke="#1a1a1a" stroke-width="1.0"/>
<text transform="translate(425.88,611.30) rotate(-45) scale(0.920,1)" font-size="8.0" text-anchor="end" fill="#1e1e1e" stroke="#1e1e1e" stroke-width="0.1">G71A</text>
<rect x="432.52" y="536.48" width="10.90" height="64.82" fill="#69a643" stroke="#5e9a3a" stroke-width="0.7"/>
<line x1="437.97" y1="601.3" x2="437.97" y2="604.5999999999999" stroke="#1a1a1a" stroke-width="1.0"/>
<text transform="translate(442.27,611.30) rotate(-45) scale(0.920,1)" font-size="8.0" text-anchor="end" fill="#1e1e1e" stroke="#1e1e1e" stroke-width="0.1">N77S</text>
<rect x="448.91" y="541.29" width="10.90" height="60.01" fill="#2f4c7c" stroke="#223f70" stroke-width="0.7"/>
<line x1="454.36" y1="601.3" x2="454.36" y2="604.5999999999999" stroke="#1a1a1a" stroke-width="1.0"/>
<text transform="translate(458.66,611.30) rotate(-45) scale(0.920,1)" font-size="8.0" text-anchor="end" fill="#1e1e1e" stroke="#1e1e1e" stroke-width="0.1">N77Y</text>
<rect x="465.30" y="546.10" width="10.90" height="55.20" fill="#2f4c7c" stroke="#223f70" stroke-width="0.7"/>
<line x1="470.75" y1="601.3" x2="470.75" y2="604.5999999999999" stroke="#1a1a1a" stroke-width="1.0"/>
<text transform="translate(475.05,611.30) rotate(-45) scale(0.920,1)" font-size="8.0" text-anchor="end" fill="#1e1e1e" stroke="#1e1e1e" stroke-width="0.1">I123N</text>
<rect x="481.69" y="481.37" width="10.90" height="119.93" fill="#a3002b" stroke="#960027" stroke-width="0.7"/>
<line x1="487.14" y1="601.3" x2="487.14" y2="604.5999999999999" stroke="#1a1a1a" stroke-width="1.0"/>
<text transform="translate(491.44,611.30) rotate(-45) scale(0.920,1)" font-size="8.0" text-anchor="end" fill="#1e1e1e" stroke="#1e1e1e" stroke-width="0.1">L128R</text>
<rect x="498.08" y="463.43" width="10.90" height="137.87" fill="#2f4c7c" stroke="#223f70" stroke-width="0.7"/>
<line x1="503.53" y1="601.3" x2="503.53" y2="604.5999999999999" stroke="#1a1a1a" stroke-width="1.0"/>
<text transform="translate(507.83,611.30) rotate(-45) scale(0.920,1)" font-size="8.0" text-anchor="end" fill="#1e1e1e" stroke="#1e1e1e" stroke-width="0.1">Y139H</text>
<line x1="53" y1="445.3" x2="53" y2="602.05" stroke="#1a1a1a" stroke-width="1.5"/>
<line x1="49.8" y1="601.30" x2="53" y2="601.30" stroke="#1a1a1a" stroke-width="1.1"/>
<text transform="translate(46.80,604.30) scale(0.930,1)" font-size="8.2" text-anchor="end" fill="#1e1e1e" stroke="#1e1e1e" stroke-width="0.22">0</text>
<line x1="49.8" y1="579.43" x2="53" y2="579.43" stroke="#1a1a1a" stroke-width="1.1"/>
<text transform="translate(46.80,582.43) scale(0.860,1)" font-size="8.2" text-anchor="end" fill="#1e1e1e" stroke="#1e1e1e" stroke-width="0.22">10</text>
<line x1="49.8" y1="557.56" x2="53" y2="557.56" stroke="#1a1a1a" stroke-width="1.1"/>
<text transform="translate(46.80,560.56) scale(0.930,1)" font-size="8.2" text-anchor="end" fill="#1e1e1e" stroke="#1e1e1e" stroke-width="0.22">20</text>
<line x1="49.8" y1="535.69" x2="53" y2="535.69" stroke="#1a1a1a" stroke-width="1.1"/>
<text transform="translate(46.80,538.69) scale(0.930,1)" font-size="8.2" text-anchor="end" fill="#1e1e1e" stroke="#1e1e1e" stroke-width="0.22">30</text>
<line x1="49.8" y1="513.82" x2="53" y2="513.82" stroke="#1a1a1a" stroke-width="1.1"/>
<text transform="translate(46.80,516.82) scale(0.930,1)" font-size="8.2" text-anchor="end" fill="#1e1e1e" stroke="#1e1e1e" stroke-width="0.22">40</text>
<line x1="49.8" y1="491.95" x2="53" y2="491.95" stroke="#1a1a1a" stroke-width="1.1"/>
<text transform="translate(46.80,494.95) scale(0.930,1)" font-size="8.2" text-anchor="end" fill="#1e1e1e" stroke="#1e1e1e" stroke-width="0.22">50</text>
<line x1="49.8" y1="470.08" x2="53" y2="470.08" stroke="#1a1a1a" stroke-width="1.1"/>
<text transform="translate(46.80,473.08) scale(0.930,1)" font-size="8.2" text-anchor="end" fill="#1e1e1e" stroke="#1e1e1e" stroke-width="0.22">60</text>
<line x1="49.8" y1="448.21" x2="53" y2="448.21" stroke="#1a1a1a" stroke-width="1.1"/>
<text transform="translate(46.80,451.21) scale(0.930,1)" font-size="8.2" text-anchor="end" fill="#1e1e1e" stroke="#1e1e1e" stroke-width="0.22">70</text>
<line x1="51.2" y1="590.37" x2="53" y2="590.37" stroke="#1a1a1a" stroke-width="1.0"/>
<line x1="51.2" y1="568.50" x2="53" y2="568.50" stroke="#1a1a1a" stroke-width="1.0"/>
<line x1="51.2" y1="546.62" x2="53" y2="546.62" stroke="#1a1a1a" stroke-width="1.0"/>
<line x1="51.2" y1="524.75" x2="53" y2="524.75" stroke="#1a1a1a" stroke-width="1.0"/>
<line x1="51.2" y1="502.88" x2="53" y2="502.88" stroke="#1a1a1a" stroke-width="1.0"/>
<line x1="51.2" y1="481.01" x2="53" y2="481.01" stroke="#1a1a1a" stroke-width="1.0"/>
<line x1="51.2" y1="459.14" x2="53" y2="459.14" stroke="#1a1a1a" stroke-width="1.0"/>
<line x1="49.8" y1="601.3" x2="513.3" y2="601.3" stroke="#1a1a1a" stroke-width="1.5"/>
<text transform="translate(29.60,523.40) rotate(-90) scale(0.883,1)" font-size="9.9" text-anchor="middle" fill="#1e1e1e" stroke="#1e1e1e" stroke-width="0.22">EC<tspan font-size="7.6" dy="3">50</tspan><tspan dy="-3"> (nM)</tspan></text>
<text transform="translate(9.60,222.80) scale(0.870,1)" font-size="11.9" text-anchor="start" fill="#111" stroke="#111" stroke-width="0.22">B</text>
<line x1="53" y1="229" x2="53" y2="394.4" stroke="#1a1a1a" stroke-width="1.5"/>
<line x1="49.8" y1="393.70" x2="53" y2="393.70" stroke="#1a1a1a" stroke-width="1.1"/>
<text transform="translate(46.80,396.70) scale(0.930,1)" font-size="8.2" text-anchor="end" fill="#1e1e1e" stroke="#1e1e1e" stroke-width="0.22">0</text>
<line x1="49.8" y1="364.30" x2="53" y2="364.30" stroke="#1a1a1a" stroke-width="1.1"/>
<text transform="translate(46.80,367.30) scale(0.930,1)" font-size="8.2" text-anchor="end" fill="#1e1e1e" stroke="#1e1e1e" stroke-width="0.22">20</text>
<line x1="49.8" y1="334.90" x2="53" y2="334.90" stroke="#1a1a1a" stroke-width="1.1"/>
<text transform="translate(46.80,337.90) scale(0.930,1)" font-size="8.2" text-anchor="end" fill="#1e1e1e" stroke="#1e1e1e" stroke-width="0.22">40</text>
<line x1="49.8" y1="305.50" x2="53" y2="305.50" stroke="#1a1a1a" stroke-width="1.1"/>
<text transform="translate(46.80,308.50) scale(0.930,1)" font-size="8.2" text-anchor="end" fill="#1e1e1e" stroke="#1e1e1e" stroke-width="0.22">60</text>
<line x1="49.8" y1="276.10" x2="53" y2="276.10" stroke="#1a1a1a" stroke-width="1.1"/>
<text transform="translate(46.80,279.10) scale(0.930,1)" font-size="8.2" text-anchor="end" fill="#1e1e1e" stroke="#1e1e1e" stroke-width="0.22">80</text>
<line x1="49.8" y1="246.70" x2="53" y2="246.70" stroke="#1a1a1a" stroke-width="1.1"/>
<text transform="translate(46.80,249.70) scale(0.860,1)" font-size="8.2" text-anchor="end" fill="#1e1e1e" stroke="#1e1e1e" stroke-width="0.22">100</text>
<line x1="51.2" y1="379.00" x2="53" y2="379.00" stroke="#1a1a1a" stroke-width="1.0"/>
<line x1="51.2" y1="349.60" x2="53" y2="349.60" stroke="#1a1a1a" stroke-width="1.0"/>
<line x1="51.2" y1="320.20" x2="53" y2="320.20" stroke="#1a1a1a" stroke-width="1.0"/>
<line x1="51.2" y1="290.80" x2="53" y2="290.80" stroke="#1a1a1a" stroke-width="1.0"/>
<line x1="51.2" y1="261.40" x2="53" y2="261.40" stroke="#1a1a1a" stroke-width="1.0"/>
<line x1="51.2" y1="232.00" x2="53" y2="232.00" stroke="#1a1a1a" stroke-width="1.0"/>
<line x1="51.4" y1="393.7" x2="217.8" y2="393.7" stroke="#1a1a1a" stroke-width="1.5"/>
<line x1="66.40" y1="393.7" x2="66.40" y2="396.8" stroke="#1a1a1a" stroke-width="1.0"/>
<text transform="translate(66.40,407.30) scale(0.860,1)" font-size="8.2" text-anchor="middle" fill="#1e1e1e" stroke="#1e1e1e" stroke-width="0.22">-1</text>
<line x1="79.85" y1="393.7" x2="79.85" y2="395.8" stroke="#1a1a1a" stroke-width="1.0"/>
<line x1="93.30" y1="393.7" x2="93.30" y2="396.8" stroke="#1a1a1a" stroke-width="1.0"/>
<text transform="translate(93.30,407.30) scale(0.860,1)" font-size="8.2" text-anchor="middle" fill="#1e1e1e" stroke="#1e1e1e" stroke-width="0.22">0</text>
<line x1="106.75" y1="393.7" x2="106.75" y2="395.8" stroke="#1a1a1a" stroke-width="1.0"/>
<line x1="120.20" y1="393.7" x2="120.20" y2="396.8" stroke="#1a1a1a" stroke-width="1.0"/>
<text transform="translate(120.20,407.30) scale(0.860,1)" font-size="8.2" text-anchor="middle" fill="#1e1e1e" stroke="#1e1e1e" stroke-width="0.22">1</text>
<line x1="133.65" y1="393.7" x2="133.65" y2="395.8" stroke="#1a1a1a" stroke-width="1.0"/>
<line x1="147.10" y1="393.7" x2="147.10" y2="396.8" stroke="#1a1a1a" stroke-width="1.0"/>
<text transform="translate(147.10,407.30) scale(0.860,1)" font-size="8.2" text-anchor="middle" fill="#1e1e1e" stroke="#1e1e1e" stroke-width="0.22">2</text>
<line x1="160.55" y1="393.7" x2="160.55" y2="395.8" stroke="#1a1a1a" stroke-width="1.0"/>
<line x1="174.00" y1="393.7" x2="174.00" y2="396.8" stroke="#1a1a1a" stroke-width="1.0"/>
<text transform="translate(174.00,407.30) scale(0.860,1)" font-size="8.2" text-anchor="middle" fill="#1e1e1e" stroke="#1e1e1e" stroke-width="0.22">3</text>
<line x1="187.45" y1="393.7" x2="187.45" y2="395.8" stroke="#1a1a1a" stroke-width="1.0"/>
<line x1="200.90" y1="393.7" x2="200.90" y2="396.8" stroke="#1a1a1a" stroke-width="1.0"/>
<text transform="translate(200.90,407.30) scale(0.860,1)" font-size="8.2" text-anchor="middle" fill="#1e1e1e" stroke="#1e1e1e" stroke-width="0.22">4</text>
<line x1="214.35" y1="393.7" x2="214.35" y2="395.8" stroke="#1a1a1a" stroke-width="1.0"/>
<text transform="translate(135.45,419.80) scale(0.907,1)" font-size="9.9" text-anchor="middle" fill="#1e1e1e" stroke="#1e1e1e" stroke-width="0.22">Log [KO, nM]</text>
<text transform="translate(16.30,311.40) rotate(-90) scale(0.950,1)" font-size="9.9" text-anchor="middle" fill="#1e1e1e" stroke="#1e1e1e" stroke-width="0.22">Normalized reporter protein</text>
<text transform="translate(26.60,311.40) rotate(-90) scale(0.950,1)" font-size="9.9" text-anchor="middle" fill="#1e1e1e" stroke="#1e1e1e" stroke-width="0.22">carboxylation (%)</text>
<path d="M67.00,382.39 L68.63,382.31 L70.26,382.23 L71.88,382.13 L73.51,382.02 L75.14,381.90 L76.77,381.75 L78.39,381.58 L80.02,381.39 L81.65,381.17 L83.28,380.91 L84.91,380.62 L86.53,380.29 L88.16,379.91 L89.79,379.47 L91.42,378.97 L93.05,378.41 L94.67,377.76 L96.30,377.02 L97.93,376.18 L99.56,375.23 L101.18,374.15 L102.81,372.93 L104.44,371.56 L106.07,370.02 L107.70,368.29 L109.32,366.36 L110.95,364.22 L112.58,361.85 L114.21,359.24 L115.84,356.39 L117.46,353.28 L119.09,349.92 L120.72,346.31 L122.35,342.47 L123.97,338.41 L125.60,334.16 L127.23,329.75 L128.86,325.21 L130.49,320.58 L132.11,315.91 L133.74,311.25 L135.37,306.64 L137.00,302.12 L138.63,297.74 L140.25,293.52 L141.88,289.51 L143.51,285.71 L145.14,282.15 L146.76,278.84 L148.39,275.79 L150.02,272.98 L151.65,270.42 L153.28,268.10 L154.90,266.00 L156.53,264.11 L158.16,262.42 L159.79,260.91 L161.42,259.57 L163.04,258.39 L164.67,257.33 L166.30,256.41 L167.93,255.59 L169.55,254.87 L171.18,254.24 L172.81,253.68 L174.44,253.20 L176.07,252.77 L177.69,252.40 L179.32,252.08 L180.95,251.79 L182.58,251.55 L184.21,251.33 L185.83,251.14 L187.46,250.98 L189.09,250.84 L190.72,250.71 L192.34,250.61 L193.97,250.51 L195.60,250.43" fill="none" stroke="#69a643" stroke-width="1.4"/>
<circle cx="67.2" cy="383.1" r="2.4" fill="#69a643"/>
<circle cx="80.2" cy="381.1" r="2.4" fill="#69a643"/>
<circle cx="93.1" cy="377.2" r="2.4" fill="#69a643"/>
<circle cx="105.8" cy="370.9" r="2.4" fill="#69a643"/>
<circle cx="118.6" cy="351.2" r="2.4" fill="#69a643"/>
<circle cx="131.5" cy="318.1" r="2.4" fill="#69a643"/>
<circle cx="144.2" cy="282.3" r="2.4" fill="#69a643"/>
<circle cx="157.5" cy="265.6" r="2.4" fill="#69a643"/>
<circle cx="170.2" cy="252.5" r="2.4" fill="#69a643"/>
<circle cx="183.1" cy="256.3" r="2.4" fill="#69a643"/>
<circle cx="196" cy="246.5" r="2.4" fill="#69a643"/>
<text transform="translate(283.20,222.60) scale(0.870,1)" font-size="11.9" text-anchor="start" fill="#111" stroke="#111" stroke-width="0.22">D</text>
<line x1="315.2" y1="233.1" x2="315.2" y2="394.8" stroke="#1a1a1a" stroke-width="1.5"/>
<line x1="312.0" y1="376.75" x2="315.2" y2="376.75" stroke="#1a1a1a" stroke-width="1.1"/>
<text transform="translate(308.90,379.75) scale(0.820,1)" font-size="8.2" text-anchor="end" fill="#1e1e1e" stroke="#1e1e1e" stroke-width="0.22">0.5</text>
<line x1="312.0" y1="348.60" x2="315.2" y2="348.60" stroke="#1a1a1a" stroke-width="1.1"/>
<text transform="translate(308.90,351.60) scale(0.820,1)" font-size="8.2" text-anchor="end" fill="#1e1e1e" stroke="#1e1e1e" stroke-width="0.22">1.0</text>
<line x1="312.0" y1="320.45" x2="315.2" y2="320.45" stroke="#1a1a1a" stroke-width="1.1"/>
<text transform="translate(308.90,323.45) scale(0.820,1)" font-size="8.2" text-anchor="end" fill="#1e1e1e" stroke="#1e1e1e" stroke-width="0.22">1.5</text>
<line x1="312.0" y1="292.30" x2="315.2" y2="292.30" stroke="#1a1a1a" stroke-width="1.1"/>
<text transform="translate(308.90,295.30) scale(0.820,1)" font-size="8.2" text-anchor="end" fill="#1e1e1e" stroke="#1e1e1e" stroke-width="0.22">2.0</text>
<line x1="312.0" y1="264.15" x2="315.2" y2="264.15" stroke="#1a1a1a" stroke-width="1.1"/>
<text transform="translate(308.90,267.15) scale(0.820,1)" font-size="8.2" text-anchor="end" fill="#1e1e1e" stroke="#1e1e1e" stroke-width="0.22">2.5</text>
<line x1="312.0" y1="236.00" x2="315.2" y2="236.00" stroke="#1a1a1a" stroke-width="1.1"/>
<text transform="translate(308.90,239.00) scale(0.820,1)" font-size="8.2" text-anchor="end" fill="#1e1e1e" stroke="#1e1e1e" stroke-width="0.22">3.0</text>
<line x1="313.4" y1="390.82" x2="315.2" y2="390.82" stroke="#1a1a1a" stroke-width="1.0"/>
<line x1="313.4" y1="362.68" x2="315.2" y2="362.68" stroke="#1a1a1a" stroke-width="1.0"/>
<line x1="313.4" y1="334.52" x2="315.2" y2="334.52" stroke="#1a1a1a" stroke-width="1.0"/>
<line x1="313.4" y1="306.38" x2="315.2" y2="306.38" stroke="#1a1a1a" stroke-width="1.0"/>
<line x1="313.4" y1="278.23" x2="315.2" y2="278.23" stroke="#1a1a1a" stroke-width="1.0"/>
<line x1="313.4" y1="250.08" x2="315.2" y2="250.08" stroke="#1a1a1a" stroke-width="1.0"/>
<line x1="314.3" y1="394.1" x2="510.4" y2="394.1" stroke="#1a1a1a" stroke-width="1.5"/>
<line x1="315.20" y1="394.1" x2="315.20" y2="397.2" stroke="#1a1a1a" stroke-width="1.0"/>
<text transform="translate(315.60,407.30) scale(0.860,1)" font-size="8.2" text-anchor="middle" fill="#1e1e1e" stroke="#1e1e1e" stroke-width="0.22">10</text>
<line x1="331.65" y1="394.1" x2="331.65" y2="396.2" stroke="#1a1a1a" stroke-width="1.0"/>
<line x1="347.70" y1="394.1" x2="347.70" y2="397.2" stroke="#1a1a1a" stroke-width="1.0"/>
<text transform="translate(347.70,407.30) scale(0.860,1)" font-size="8.2" text-anchor="middle" fill="#1e1e1e" stroke="#1e1e1e" stroke-width="0.22">20</text>
<line x1="363.75" y1="394.1" x2="363.75" y2="396.2" stroke="#1a1a1a" stroke-width="1.0"/>
<line x1="379.80" y1="394.1" x2="379.80" y2="397.2" stroke="#1a1a1a" stroke-width="1.0"/>
<text transform="translate(379.80,407.30) scale(0.860,1)" font-size="8.2" text-anchor="middle" fill="#1e1e1e" stroke="#1e1e1e" stroke-width="0.22">30</text>
<line x1="395.85" y1="394.1" x2="395.85" y2="396.2" stroke="#1a1a1a" stroke-width="1.0"/>
<line x1="411.90" y1="394.1" x2="411.90" y2="397.2" stroke="#1a1a1a" stroke-width="1.0"/>
<text transform="translate(411.90,407.30) scale(0.860,1)" font-size="8.2" text-anchor="middle" fill="#1e1e1e" stroke="#1e1e1e" stroke-width="0.22">40</text>
<line x1="427.95" y1="394.1" x2="427.95" y2="396.2" stroke="#1a1a1a" stroke-width="1.0"/>
<line x1="444.00" y1="394.1" x2="444.00" y2="397.2" stroke="#1a1a1a" stroke-width="1.0"/>
<text transform="translate(444.00,407.30) scale(0.860,1)" font-size="8.2" text-anchor="middle" fill="#1e1e1e" stroke="#1e1e1e" stroke-width="0.22">50</text>
<line x1="460.05" y1="394.1" x2="460.05" y2="396.2" stroke="#1a1a1a" stroke-width="1.0"/>
<line x1="476.10" y1="394.1" x2="476.10" y2="397.2" stroke="#1a1a1a" stroke-width="1.0"/>
<text transform="translate(476.10,407.30) scale(0.860,1)" font-size="8.2" text-anchor="middle" fill="#1e1e1e" stroke="#1e1e1e" stroke-width="0.22">60</text>
<line x1="492.15" y1="394.1" x2="492.15" y2="396.2" stroke="#1a1a1a" stroke-width="1.0"/>
<line x1="508.20" y1="394.1" x2="508.20" y2="397.2" stroke="#1a1a1a" stroke-width="1.0"/>
<text transform="translate(508.20,407.30) scale(0.860,1)" font-size="8.2" text-anchor="middle" fill="#1e1e1e" stroke="#1e1e1e" stroke-width="0.22">70</text>
<text transform="translate(413.30,420.20) scale(0.883,1)" font-size="9.9" text-anchor="middle" fill="#1e1e1e" stroke="#1e1e1e" stroke-width="0.22">EC<tspan font-size="7.6" dy="2.6">50</tspan><tspan dy="-2.6"> (nM)</tspan></text>
<text transform="translate(291.20,313.90) rotate(-90) scale(0.902,1)" font-size="9.9" text-anchor="middle" fill="#1e1e1e" stroke="#1e1e1e" stroke-width="0.22">Log [IC<tspan font-size="7.6" dy="2.6">50</tspan><tspan dy="-2.6">, nM]</tspan></text>
<text transform="translate(328.90,247.00) scale(0.895,1)" font-size="7.9" text-anchor="start" fill="#1e1e1e" stroke="#1e1e1e" stroke-width="0.22">r = 0.8085</text>
<text transform="translate(328.70,255.60) scale(0.835,1)" font-size="7.9" text-anchor="start" fill="#1e1e1e" stroke="#1e1e1e" stroke-width="0.22">p &lt; 0.0001</text>
<line x1="347.4" y1="363.4" x2="450.2" y2="244.2" stroke="#111" stroke-width="1.5"/>
<circle cx="367.3" cy="312.9" r="2.5" fill="#69a643"/>
<circle cx="379.4" cy="315.9" r="2.5" fill="#69a643"/>
<circle cx="383.6" cy="319.1" r="2.5" fill="#69a643"/>
<circle cx="368.6" cy="321.4" r="2.5" fill="#69a643"/>
<circle cx="372.6" cy="332" r="2.5" fill="#69a643"/>
<circle cx="364.9" cy="335.5" r="2.5" fill="#69a643"/>
<circle cx="360.3" cy="342" r="2.5" fill="#69a643"/>
<circle cx="353.5" cy="348.4" r="2.5" fill="#69a643"/>
<circle cx="354.8" cy="349.6" r="2.5" fill="#69a643"/>
<circle cx="373.3" cy="347.5" r="2.5" fill="#69a643"/>
<circle cx="361.5" cy="353.1" r="2.5" fill="#69a643"/>
<circle cx="367" cy="354" r="2.5" fill="#69a643"/>
<circle cx="375.4" cy="356.6" r="2.5" fill="#69a643"/>
<circle cx="376.5" cy="358.4" r="2.5" fill="#69a643"/>
<circle cx="348.5" cy="359.3" r="2.5" fill="#69a643"/>
<circle cx="368.4" cy="359.8" r="2.5" fill="#69a643"/>
<circle cx="366.5" cy="364.8" r="2.5" fill="#69a643"/>
<circle cx="371.5" cy="365.6" r="2.5" fill="#69a643"/>
<rect x="393.1" y="253.79999999999998" width="5.8" height="5.8" fill="#a3002b"/>
<rect x="415.20000000000005" y="250.4" width="5.8" height="5.8" fill="#a3002b"/>
<rect x="410.90000000000003" y="257.70000000000005" width="5.8" height="5.8" fill="#a3002b"/>
<rect x="457.5" y="253.4" width="5.8" height="5.8" fill="#a3002b"/>
<rect x="420.90000000000003" y="289.40000000000003" width="5.8" height="5.8" fill="#a3002b"/>
<path d="M386.4,289.7 L389.09999999999997,292.5 L386.4,295.3 L383.7,292.5 Z" fill="#2f4c7c"/>
<path d="M398,285.5 L400.7,288.3 L398,291.1 L395.3,288.3 Z" fill="#2f4c7c"/>
<path d="M402.9,290.2 L405.59999999999997,293 L402.9,295.8 L400.2,293 Z" fill="#2f4c7c"/>
<path d="M403,329.2 L405.7,332 L403,334.8 L400.3,332 Z" fill="#2f4c7c"/>
<circle cx="486.9" cy="327.3" r="2.4" fill="#4a1f68"/>
<text transform="translate(487.10,315.10) scale(0.910,1)" font-size="7.4" text-anchor="middle" fill="#6a4b8c" stroke="#6a4b8c" stroke-width="0.22">Y139H</text>
<rect x="0.5" y="0.5" width="518.5" height="632.5" fill="none" stroke="#222" stroke-width="2"/>
</svg></body></html>
